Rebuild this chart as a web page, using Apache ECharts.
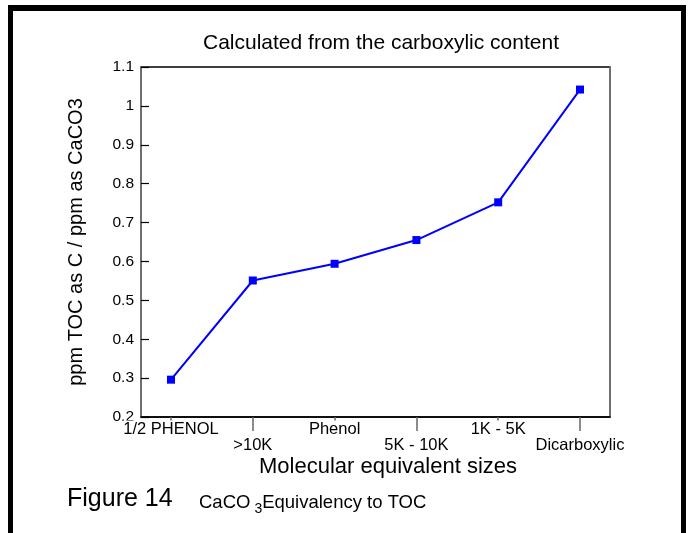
<!DOCTYPE html>
<html>
<head>
<meta charset="utf-8">
<script src="https://cdn.jsdelivr.net/npm/echarts@6/dist/echarts.min.js"></script>
<style>
  html, body { margin: 0; padding: 0; background: #fff; }
  #chart { width: 689px; height: 533px; }
</style>
</head>
<body>
<div id="chart"></div>
<script>
// data
const categories = ['1/2 PHENOL', '>10K', 'Phenol', '5K - 10K', '1K - 5K', 'Dicarboxylic']
const ratios = [0.296, 0.551, 0.594, 0.655, 0.752, 1.042]
const yTicks = { min: 0.2, max: 1.1, step: 0.1 }

const font = '"Liberation Sans", Arial, sans-serif'
const chart = echarts.init(document.getElementById('chart'), null, { renderer: 'canvas' })

let option = {
  backgroundColor: '#fff',
  animation: false,
  grid: {
    left: 141, top: 67, right: 79, bottom: 116,
    show: true,
    borderColor: '#000',
    borderWidth: 1.5
  },
  xAxis: {
    type: 'value',
    min: -0.367,
    max: 5.367,
    axisLine: { show: true, onZero: false, lineStyle: { color: '#000', width: 1.5 } },
    axisTick: {
      show: true, inside: false, length: 14,
      customValues: categories.map((c, i) => i),
      lineStyle: { color: '#666', width: 1.5 }
    },
    axisLabel: {
      show: true,
      customValues: categories.map((c, i) => i),
      margin: 4,
      fontFamily: font, fontSize: 16.5, color: '#000', lineHeight: 16,
      // staggered labels: the upper ones hide the top of their tick
      formatter: v => {
        let i = Math.round(v)
        return i % 2 ? '\n{lo|' + categories[i] + '}' : '{hi|' + categories[i] + '}'
      },
      rich: {
        hi: { fontFamily: font, fontSize: 16.5, lineHeight: 16, color: '#000', backgroundColor: '#fff' },
        lo: { fontFamily: font, fontSize: 16.5, lineHeight: 16, color: '#000' }
      }
    },
    splitLine: { show: false }
  },
  yAxis: [
    {
      type: 'value',
      min: yTicks.min,
      max: yTicks.max,
      interval: yTicks.step,
      name: 'ppm TOC as C / ppm as CaCO3',
      nameLocation: 'middle',
      nameGap: 55,
      nameRotate: 90,
      nameTextStyle: { fontFamily: font, fontSize: 20, color: '#000' },
      axisLine: { show: true, onZero: false, lineStyle: { color: '#808080', width: 1.5 } },
      axisTick: { show: true, inside: true, length: 8, lineStyle: { color: '#000', width: 1.2 } },
      axisLabel: { fontFamily: font, fontSize: 15.5, color: '#000', margin: 7 },
      splitLine: { show: false }
    },
    {
      type: 'value',
      position: 'right',
      min: yTicks.min,
      max: yTicks.max,
      axisLine: { show: true, onZero: false, lineStyle: { color: '#808080', width: 1.5 } },
      axisTick: { show: false },
      axisLabel: { show: false },
      splitLine: { show: false }
    }
  ],
  series: [{
    type: 'line',
    data: ratios.map((v, i) => [i, v]),
    symbol: 'rect',
    symbolSize: 8,
    lineStyle: { color: '#0000ff', width: 2 },
    itemStyle: { color: '#0000ff' }
  }],
  graphic: [
    // frame around the figure (no bottom edge)
    { type: 'rect', shape: { x: 8, y: 5, width: 5, height: 528 }, style: { fill: '#000' } },
    { type: 'rect', shape: { x: 8, y: 5, width: 678, height: 6 }, style: { fill: '#000' } },
    { type: 'rect', shape: { x: 681, y: 5, width: 5, height: 528 }, style: { fill: '#000' } },
    {
      type: 'text', x: 381, y: 43,
      style: {
        text: 'Calculated from the carboxylic content',
        font: '21px ' + font, fill: '#000', align: 'center', verticalAlign: 'middle'
      }
    },
    {
      type: 'text', x: 388, y: 467,
      style: {
        text: 'Molecular equivalent sizes',
        font: '22px ' + font, fill: '#000', align: 'center', verticalAlign: 'middle'
      }
    },
    {
      type: 'text', x: 67, y: 499,
      style: { text: 'Figure 14', font: '25px ' + font, fill: '#000', verticalAlign: 'middle' }
    },
    {
      type: 'text', x: 199, y: 503,
      style: {
        text: 'CaCO{sub|3}Equivalency to TOC',
        font: '18.5px ' + font, fill: '#000', verticalAlign: 'middle',
        rich: { sub: { fontSize: 14, fontFamily: font, padding: [12, 0, 0, 4], fill: '#000' } }
      }
    }
  ]
}

chart.setOption(option)
</script>
</body>
</html>
